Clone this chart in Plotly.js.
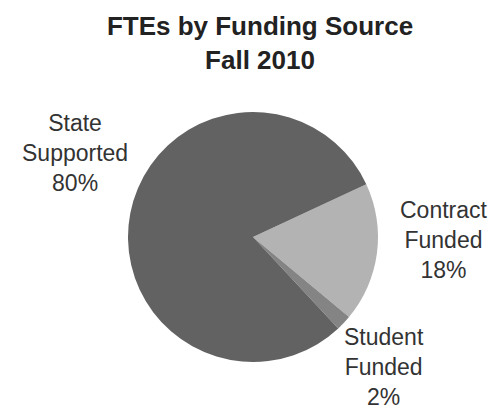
<!DOCTYPE html>
<html>
<head>
<meta charset="utf-8">
<script src="https://cdn.plot.ly/plotly-3.0.1.min.js"></script>
<style>html,body{margin:0;padding:0;background:#fff}#chart{width:495px;height:410px}</style>
</head>
<body>
<div id="chart"></div>
<script>
const categories = ["Contract<br>Funded", "Student<br>Funded", "State<br>Supported"];
const values = [18, 2, 80];
const pctLabels = ["18%", "2%", "80%"];
const sliceColors = ["#b3b3b3", "#848484", "#626262"];
// label anchor positions in pixels (layout only)
const labelPos = [[444, 240], [384, 367], [75, 153]];

const W = 495, H = 410;
const cx = 253, cy = 237, r = 125;

const trace = {
  type: "pie",
  labels: categories,
  values: values,
  sort: false,
  direction: "clockwise",
  rotation: 65,
  marker: {colors: sliceColors, line: {width: 0}},
  textinfo: "none",
  hoverinfo: "label+percent",
  showlegend: false,
  domain: {x: [(cx - r) / W, (cx + r) / W], y: [1 - (cy + r) / H, 1 - (cy - r) / H]}
};

const annotations = categories.map((c, i) => ({
  text: c + "<br>" + pctLabels[i],
  xref: "paper", yref: "paper",
  x: labelPos[i][0] / W, y: 1 - labelPos[i][1] / H,
  xanchor: "center", yanchor: "middle",
  showarrow: false, align: "center",
  font: {family: "Liberation Sans, Arial, sans-serif", size: 23, color: "#333"}
}));

const layout = {
  width: W, height: H,
  margin: {l: 0, r: 0, t: 0, b: 0},
  paper_bgcolor: "#fff",
  title: {
    text: "<b>FTEs by Funding Source<br>Fall 2010</b>",
    x: 260 / W, xanchor: "center", xref: "container",
    y: 1 - 35 / H, yanchor: "middle", yref: "container",
    font: {family: "Liberation Sans, Arial, sans-serif", size: 26, color: "#222"}
  },
  annotations: annotations
};

Plotly.newPlot("chart", [trace], layout, {displayModeBar: false, staticPlot: true});
</script>
</body>
</html>
